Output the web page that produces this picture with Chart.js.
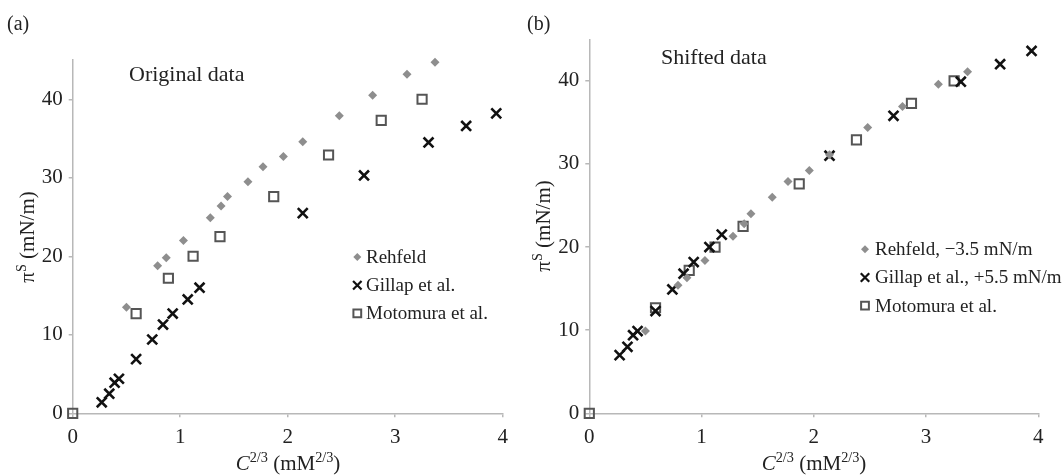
<!DOCTYPE html>
<html>
<head>
<meta charset="utf-8">
<script src="https://cdn.jsdelivr.net/npm/chart.js@4.4.0/dist/chart.umd.min.js"></script>
<style>
  html, body { margin: 0; padding: 0; background: #fff; }
  #wrap { position: relative; width: 1064px; height: 476px; font-family: "Liberation Serif", "DejaVu Serif", serif; color: #222; }
  .panel { position: absolute; top: 0; height: 476px; }
  .txt { position: absolute; white-space: nowrap; line-height: 1; }
  .ytitle { transform: translate(-50%, -50%) rotate(-90deg); }
  .xtitle { transform: translate(-50%, -50%); }
  sup { font-size: 0.68em; vertical-align: 0.5em; line-height: 0; }
</style>
</head>
<body>
<div id="wrap">
  <div class="panel" style="left:0;width:530px"><canvas id="chartA"></canvas></div>
  <div class="panel" style="left:530px;width:534px"><canvas id="chartB"></canvas></div>

  <div class="txt" style="left:7px;top:13px;font-size:20px">(a)</div>
  <div class="txt" style="left:527px;top:13px;font-size:20px">(b)</div>
  <div class="txt" style="left:129px;top:63px;font-size:22px">Original data</div>
  <div class="txt" style="left:661px;top:46px;font-size:22px">Shifted data</div>
  <div class="txt xtitle" style="left:288px;top:463px;font-size:21px"><i>C</i><sup>2/3</sup> (mM<sup>2/3</sup>)</div>
  <div class="txt xtitle" style="left:814px;top:463px;font-size:21px"><i>C</i><sup>2/3</sup> (mM<sup>2/3</sup>)</div>
  <div class="txt ytitle" style="left:27px;top:237px;font-size:21px">π<sup>S</sup> (mN/m)</div>
  <div class="txt ytitle" style="left:543px;top:226px;font-size:21px">π<sup>S</sup> (mN/m)</div>
</div>
<script>
// Data
const rehfeldX = [0.50, 0.79, 0.87, 1.03, 1.28, 1.38, 1.44, 1.63, 1.77, 1.96, 2.14, 2.48, 2.79, 3.11, 3.37];
const rehfeldY = [13.5, 18.8, 19.8, 22.0, 24.9, 26.4, 27.6, 29.5, 31.4, 32.7, 34.6, 37.9, 40.5, 43.2, 44.7];
const rehfeldShiftedY = [9.9, 15.4, 16.3, 18.4, 21.3, 22.8, 24.0, 26.0, 27.9, 29.2, 31.1, 34.4, 36.9, 39.6, 41.1];

const gillapX = [0.27, 0.34, 0.39, 0.43, 0.59, 0.74, 0.84, 0.93, 1.07, 1.18, 2.14, 2.71, 3.31, 3.66, 3.94];
const gillapY = [1.4, 2.5, 3.9, 4.4, 6.9, 9.4, 11.3, 12.7, 14.5, 16.0, 25.5, 30.3, 34.5, 36.6, 38.2];
const gillapShiftedY = [7.0, 8.0, 9.4, 9.9, 12.3, 14.9, 16.8, 18.2, 20.0, 21.5, 31.0, 35.8, 39.9, 42.0, 43.6];

const motomuraX = [0, 0.59, 0.89, 1.12, 1.37, 1.87, 2.38, 2.87, 3.25];
const motomuraY = [0, 12.7, 17.2, 20.0, 22.5, 27.6, 32.9, 37.3, 40.0];

const xTicks = [0, 1, 2, 3, 4];
const yTicks = [0, 10, 20, 30, 40];

const labelsA = ['Rehfeld', 'Gillap et al.', 'Motomura et al.'];
const labelsB = ['Rehfeld, \u22123.5 mN/m', 'Gillap et al., +5.5 mN/m', 'Motomura et al.'];

// Colors
const colors = {
    diamond: '#8e8e8e',
    cross: '#111111',
    square: '#555555',
    axis: '#b8b8b8',
    text: '#222222'
};

function pts(xs, ys) {
    return xs.map((x, i) => ({ x: x, y: ys[i] }));
}

function makeDatasets(labels, rY, gY, mY) {
    return [
        {
            label: labels[0],
            data: pts(rehfeldX, rY),
            pointStyle: 'rectRot',
            pointRadius: 4.5,
            backgroundColor: colors.diamond,
            borderColor: colors.diamond,
            borderWidth: 0,
            legendRadius: 4
        },
        {
            label: labels[1],
            data: pts(gillapX, gY),
            pointStyle: 'crossRot',
            pointRadius: 7,
            borderColor: colors.cross,
            backgroundColor: colors.cross,
            borderWidth: 2.6,
            legendRadius: 6
        },
        {
            label: labels[2],
            data: pts(motomuraX, mY),
            pointStyle: 'rect',
            pointRadius: 6.5,
            borderColor: colors.square,
            backgroundColor: 'rgba(0,0,0,0)',
            borderWidth: 2,
            legendRadius: 5.5
        }
    ];
}

// Legend drawn inside the plot area
const insideLegend = {
    id: 'insideLegend',
    afterDraw(chart, args, opts) {
        const ctx = chart.ctx;
        ctx.save();
        chart.data.datasets.forEach((ds, i) => {
            const y = opts.y + i * opts.gap;
            const bw = ds.borderWidth > 0 ? Math.min(ds.borderWidth, 2.2) : 0;
            ctx.fillStyle = ds.backgroundColor;
            ctx.strokeStyle = ds.borderColor;
            ctx.lineWidth = bw;
            Chart.helpers.drawPoint(ctx, {
                pointStyle: ds.pointStyle,
                radius: ds.legendRadius,
                borderWidth: bw,
                rotation: 0
            }, opts.x, y);
            ctx.fillStyle = colors.text;
            ctx.font = '19px "Liberation Serif"';
            ctx.textBaseline = 'middle';
            ctx.textAlign = 'left';
            ctx.fillText(ds.label, opts.textX, y + 1);
        });
        ctx.restore();
    }
};

function makeChart(id, datasets, pad, yWidth, yMax, legend) {
    return new Chart(document.getElementById(id).getContext('2d'), {
        type: 'scatter',
        data: { datasets: datasets },
        options: {
            responsive: true,
            maintainAspectRatio: false,
            animation: false,
            clip: false,
            layout: { padding: pad },
            plugins: {
                legend: { display: false },
                tooltip: { enabled: false },
                insideLegend: legend
            },
            scales: {
                x: {
                    type: 'linear',
                    min: 0,
                    max: 4,
                    afterFit: (scale) => { scale.height = 62.7; },
                    afterBuildTicks: (scale) => { scale.ticks = xTicks.map(v => ({ value: v })); },
                    border: { color: colors.axis, width: 1.5 },
                    grid: { drawOnChartArea: false, drawTicks: true, tickLength: 4, color: colors.axis, lineWidth: 1.5 },
                    ticks: {
                        padding: 8,
                        color: colors.text,
                        maxRotation: 0,
                        font: { family: 'Liberation Serif', size: 21 }
                    }
                },
                y: {
                    type: 'linear',
                    min: 0,
                    max: yMax,
                    afterFit: (scale) => { scale.width = yWidth; },
                    afterBuildTicks: (scale) => { scale.ticks = yTicks.map(v => ({ value: v })); },
                    border: { color: colors.axis, width: 1.5 },
                    grid: { drawOnChartArea: false, drawTicks: true, tickLength: 4, color: colors.axis, lineWidth: 1.5 },
                    ticks: {
                        padding: 6,
                        color: colors.text,
                        font: { family: 'Liberation Serif', size: 21 }
                    }
                }
            }
        },
        plugins: [insideLegend]
    });
}

makeChart('chartA', makeDatasets(labelsA, rehfeldY, gillapY, motomuraY),
    { left: 0, top: 60, right: 27.3, bottom: 0 }, 72.7, 45,
    { x: 357.3, y: 257, gap: 28.2, textX: 366 });

makeChart('chartB', makeDatasets(labelsB, rehfeldShiftedY, gillapShiftedY, motomuraY),
    { left: 0, top: 39.3, right: 25.7, bottom: 0 }, 59.3, 45,
    { x: 335, y: 249.3, gap: 28.2, textX: 345 });
</script>
</body>
</html>
